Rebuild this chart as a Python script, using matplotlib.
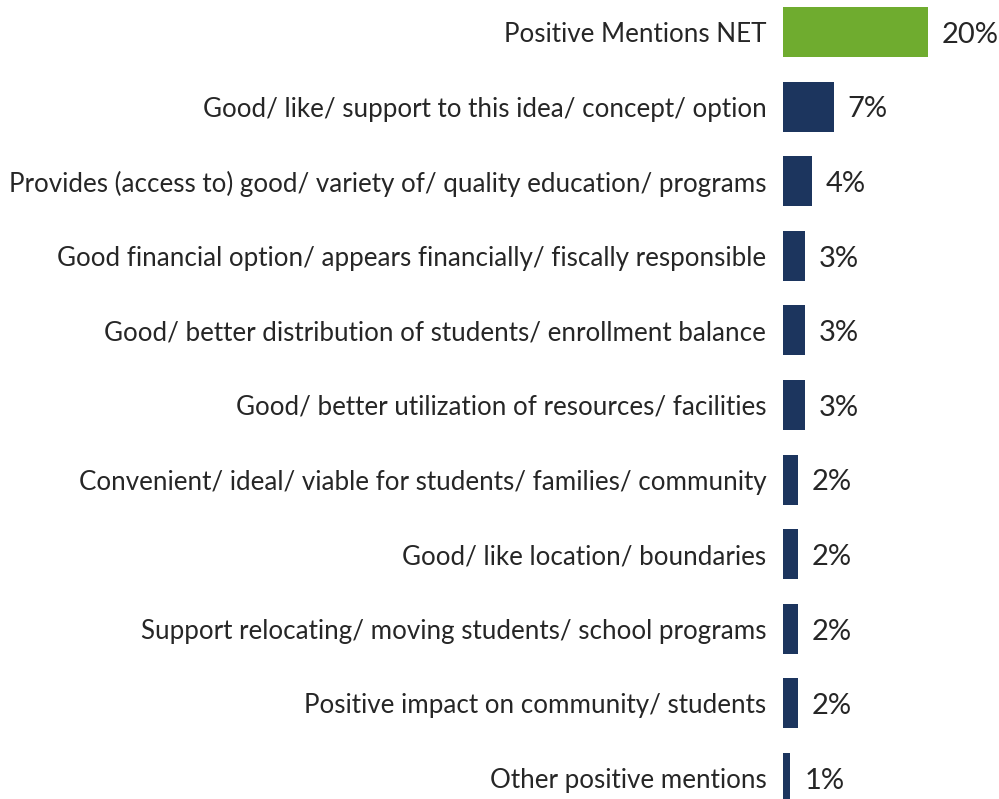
import matplotlib
matplotlib.use("Agg")
from matplotlib import pyplot as plt

labels = [
    "Positive Mentions NET",
    "Good/ like/ support to this idea/ concept/ option",
    "Provides (access to) good/ variety of/ quality education/ programs",
    "Good financial option/ appears financially/ fiscally responsible",
    "Good/ better distribution of students/ enrollment balance",
    "Good/ better utilization of resources/ facilities",
    "Convenient/ ideal/ viable for students/ families/ community",
    "Good/ like location/ boundaries",
    "Support relocating/ moving students/ school programs",
    "Positive impact on community/ students",
    "Other positive mentions",
]
values = [20, 7, 4, 3, 3, 3, 2, 2, 2, 2, 1]

GREEN = "#6FAC2F"
NAVY = "#1C355E"
TEXT = "#262626"

plt.rcParams['font.family'] = ['Lato', 'DejaVu Sans']

fig = plt.figure(figsize=(9.99, 7.99), dpi=100)
ax = fig.add_axes([783 / 999, 0, 216 / 999, 1])

colors = [GREEN] + [NAVY] * (len(values) - 1)
ypos = list(range(len(values)))
bars = ax.barh(ypos, values, height=0.67, color=colors)

ax.set_xlim(0, 216 / 7.25)
ax.set_ylim((799 - 32) / 74.6, -32 / 74.6)

ax.set_yticks(ypos)
ax.set_yticklabels(labels, fontsize=18.7, color=TEXT)
ax.tick_params(axis='y', length=0, pad=12)
ax.set_xticks([])
for s in ax.spines.values():
    s.set_visible(False)

for b, v in zip(bars, values):
    ax.annotate(f"{v}%", (b.get_width(), b.get_y() + b.get_height() / 2),
                xytext=(10, -2), textcoords="offset points",
                va="center", ha="left", fontsize=21, color=TEXT)

fig.savefig("out.png", dpi=100)
